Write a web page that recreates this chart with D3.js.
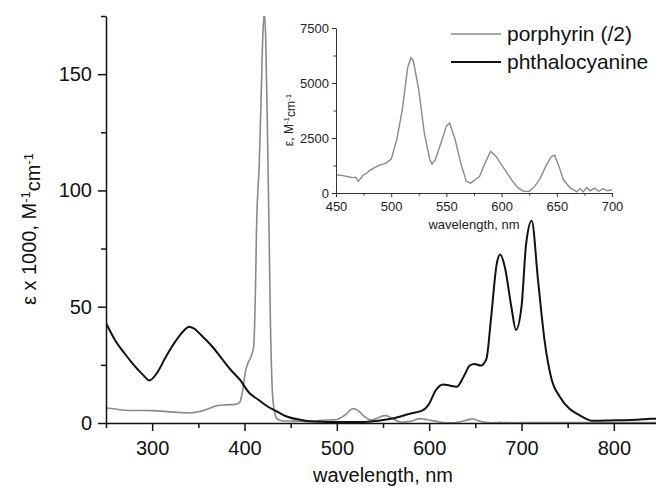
<!DOCTYPE html>
<html>
<head>
<meta charset="utf-8">
<style>
  body { margin: 0; background: #fff; }
  svg { font-family: "Liberation Sans", Arial, sans-serif; }
  .axis path, .axis line { stroke: #111; stroke-width: 1.5px; }
  .inset .axis path, .inset .axis line { stroke: #333; stroke-width: 1px; }
</style>
<script src="https://d3js.org/d3.v7.min.js"></script>
</head>
<body>
<svg width="656" height="488"></svg>
<script>
// porphyrin (/2), Soret region, eps x 1000
const porphyrinSoret = [[250,6.5],[260,6],[270,5.5],[280,5.4],[290,5.4],[300,5.3],[310,5.1],[320,4.8],[330,4.5],
  [340,4.3],[350,4.8],[360,6],[370,7.4],[380,7.8],[390,8],[395,9],[398,14],[401,22],[404,26],[407,28.5],[410,33],
  [412,60],[413,83],[416,112],[418,140],[420,168],[421.5,176],[423,165],[425,122],[426.5,85],[428,45],[430,15],
  [432,6],[435,2],[440,1]];
// porphyrin (/2), Q bands, eps in M-1cm-1 (inset)
const porphyrinQ = [[450,830],[455,800],[460,750],[465,700],[468,720],[470,530],[472,650],[475,830],[478,900],
  [480,1010],[485,1150],[490,1280],[495,1350],[500,1540],[505,2410],[510,3770],[515,5730],[518,6150],[520,6030],
  [525,4680],[530,2720],[535,1510],[537,1310],[540,1510],[545,2260],[550,3050],[553,3170],[558,2410],[563,1360],
  [568,530],[572,450],[576,600],[580,750],[585,1360],[590,1890],[595,1660],[600,1280],[605,900],[610,530],
  [615,230],[620,75],[625,75],[630,300],[635,680],[640,1210],[645,1660],[648,1720],[652,1210],[656,600],
  [662,230],[665,150],[668,50],[671,200],[674,60],[677,250],[680,100],[684,220],[688,80],[692,200],[696,100],[700,150]];
// porphyrin (/2), red tail, eps x 1000
const porphyrinTail = [[720,0.2],[760,0.2],[800,0.15],[850,0.2]];
// phthalocyanine, eps x 1000
const phthalocyanine = [[250,43],[260,35.5],[270,30],[280,25],[290,20.7],[297,18.3],[305,21.4],[315,28.6],[325,35],
  [335,40],[340,41.4],[345,40.7],[355,37],[365,32.9],[375,27.9],[385,22.9],[395,18.6],[405,13],[415,10],[425,7.1],
  [435,5],[445,2.9],[460,1.4],[475,0.6],[490,0.4],[525,0.4],[545,1],[560,1.9],[579,4],[593,5.4],[600,8.3],[607,14],
  [615,16.6],[622,16.1],[630,15.6],[637,19.7],[644,24.7],[649,25.4],[656,24.7],[662,27.6],[667,45],[673,68],
  [677,72.5],[682,67],[689,50],[694,40],[700,50],[705,77],[711,87],[718,61],[725,35.4],[732,19.7],[742,11],
  [752,6.1],[763,3.3],[770,1.8],[776,1],[785,1],[796,1.1],[810,1.2],[825,1.4],[840,1.8],[850,1.9]];

const mainXTicks = [300, 400, 500, 600, 700, 800];
const mainXMinor = [250, 350, 450, 550, 650, 750, 850];
const mainYTicks = [0, 50, 100, 150];
const mainYMinor = [25, 75, 125, 175];
const insetXTicks = [450, 500, 550, 600, 650, 700];
const insetXMinor = [475, 525, 575, 625, 675];
const insetYTicks = [0, 2500, 5000, 7500];
const insetYMinor = [1250, 3750, 6250];
const legendLabels = ["porphyrin (/2)", "phthalocyanine"];
const colors = ["#8a8a8a", "#111"];

const svg = d3.select("svg");

// main plot
const x = d3.scaleLinear().domain([250, 850]).range([106, 660]);
const y = d3.scaleLinear().domain([0, 175]).range([423, 16]);

svg.append("clipPath").attr("id", "clipMain")
  .append("rect").attr("x", 106).attr("y", 16).attr("width", 560).attr("height", 408);

const porphyrinMain = porphyrinSoret
  .concat(porphyrinQ.map(d => [d[0], d[1] / 1000]))
  .concat(porphyrinTail);

const line = d3.line().x(d => x(d[0])).y(d => y(d[1])).curve(d3.curveMonotoneX);

const plot = svg.append("g").attr("clip-path", "url(#clipMain)");
plot.append("path").datum(porphyrinMain).attr("d", line)
  .attr("fill", "none").attr("stroke", colors[0]).attr("stroke-width", 1.6);
plot.append("path").datum(phthalocyanine).attr("d", line)
  .attr("fill", "none").attr("stroke", colors[1]).attr("stroke-width", 2);

// main axes
svg.append("g").attr("class", "axis").attr("transform", "translate(0,423)")
  .call(d3.axisBottom(x).tickValues(mainXMinor).tickFormat("").tickSize(5).tickSizeOuter(0))
  .select(".domain").remove();
svg.append("g").attr("class", "axis").attr("transform", "translate(0,423)")
  .call(d3.axisBottom(x).tickValues(mainXTicks).tickSize(8).tickPadding(10).tickSizeOuter(0))
  .call(g => g.selectAll("text").attr("font-size", 20).attr("fill", "#111"));
svg.append("g").attr("class", "axis").attr("transform", "translate(106,0)")
  .call(d3.axisLeft(y).tickValues(mainYMinor).tickFormat("").tickSize(5).tickSizeOuter(0))
  .select(".domain").remove();
svg.append("g").attr("class", "axis").attr("transform", "translate(106,0)")
  .call(d3.axisLeft(y).tickValues(mainYTicks).tickSize(8).tickPadding(6).tickSizeOuter(0))
  .call(g => g.selectAll("text").attr("font-size", 20).attr("fill", "#111"));

// main labels
svg.append("text").attr("x", 383).attr("y", 482).attr("text-anchor", "middle")
  .attr("font-size", 20).attr("fill", "#111").text("wavelength, nm");

const yl = svg.append("text").attr("transform", "translate(36,229) rotate(-90)")
  .attr("text-anchor", "middle").attr("font-size", 20).attr("fill", "#111");
yl.append("tspan").text("ε x 1000, M");
yl.append("tspan").attr("dy", "-0.5em").attr("font-size", 13).text("-1");
yl.append("tspan").attr("dy", "0.5em").text("cm");
yl.append("tspan").attr("dy", "-0.5em").attr("font-size", 13).text("-1");

// inset
const ix = d3.scaleLinear().domain([450, 700]).range([336, 612]);
const iy = d3.scaleLinear().domain([0, 7500]).range([193, 28]);
const inset = svg.append("g").attr("class", "inset");

const iline = d3.line().x(d => ix(d[0])).y(d => iy(d[1]));
inset.append("path").datum(porphyrinQ).attr("d", iline)
  .attr("fill", "none").attr("stroke", colors[0]).attr("stroke-width", 1.4);

inset.append("g").attr("class", "axis").attr("transform", "translate(0,193)")
  .call(d3.axisBottom(ix).tickValues(insetXMinor).tickFormat("").tickSize(2.5).tickSizeOuter(0))
  .select(".domain").remove();
inset.append("g").attr("class", "axis").attr("transform", "translate(0,193)")
  .call(d3.axisBottom(ix).tickValues(insetXTicks).tickFormat(d3.format("d")).tickSize(4).tickPadding(5).tickSizeOuter(0))
  .call(g => g.selectAll("text").attr("font-size", 13).attr("fill", "#222"));
inset.append("g").attr("class", "axis").attr("transform", "translate(336,0)")
  .call(d3.axisLeft(iy).tickValues(insetYMinor).tickFormat("").tickSize(2.5).tickSizeOuter(0))
  .select(".domain").remove();
inset.append("g").attr("class", "axis").attr("transform", "translate(336,0)")
  .call(d3.axisLeft(iy).tickValues(insetYTicks).tickFormat(d3.format("d")).tickSize(4).tickPadding(3).tickSizeOuter(0))
  .call(g => g.selectAll("text").attr("font-size", 13).attr("fill", "#222"));

inset.append("text").attr("x", 474).attr("y", 229).attr("text-anchor", "middle")
  .attr("font-size", 13).attr("fill", "#222").text("wavelength, nm");

const il = inset.append("text").attr("transform", "translate(293,120) rotate(-90)")
  .attr("text-anchor", "middle").attr("font-size", 12).attr("fill", "#222");
il.append("tspan").text("ε, M");
il.append("tspan").attr("dy", "-0.5em").attr("font-size", 8).text("-1");
il.append("tspan").attr("dy", "0.5em").text("cm");
il.append("tspan").attr("dy", "-0.5em").attr("font-size", 8).text("-1");

// legend
const legend = svg.append("g").selectAll("g").data(legendLabels).join("g")
  .attr("transform", (d, i) => `translate(451,${34 + i * 28})`);
legend.append("line").attr("x1", 0).attr("x2", 50).attr("y1", 0).attr("y2", 0)
  .attr("stroke", (d, i) => colors[i]).attr("stroke-width", (d, i) => i ? 2 : 1.6);
legend.append("text").attr("x", 56).attr("y", 7).attr("font-size", 21).attr("fill", "#111").text(d => d);
</script>
</body>
</html>
